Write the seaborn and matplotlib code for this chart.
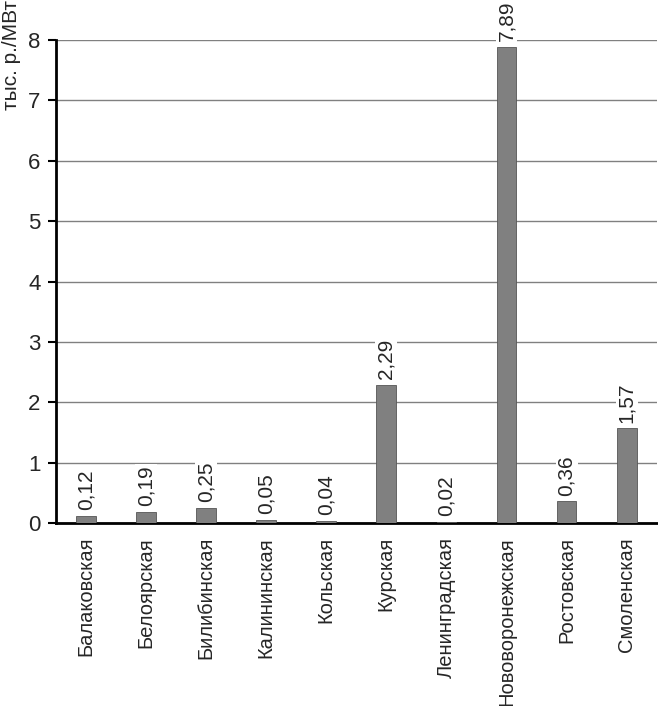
import matplotlib
matplotlib.use("Agg")
import matplotlib.pyplot as plt
import seaborn as sns
import pandas as pd

stations = ["Балаковская", "Белоярская", "Билибинская", "Калининская", "Кольская",
            "Курская", "Ленинградская", "Нововоронежская", "Ростовская", "Смоленская"]
values = [0.12, 0.19, 0.25, 0.05, 0.04, 2.29, 0.02, 7.89, 0.36, 1.57]
value_labels = ["0,12", "0,19", "0,25", "0,05", "0,04", "2,29", "0,02", "7,89", "0,36", "1,57"]
yticks = [0, 1, 2, 3, 4, 5, 6, 7, 8]

sns.set_theme(style="white")
plt.rcParams['font.family'] = ['Liberation Sans', 'DejaVu Sans']

df = pd.DataFrame({"station": stations, "value": values})

fig = plt.figure(figsize=(6.58, 7.06), dpi=100)
ax = fig.add_axes([0.085, 0.2592, 0.913, 0.6841])

sns.barplot(data=df, x="station", y="value", color="#808080", width=0.33,
            edgecolor="#555555", linewidth=0.6, saturation=1, ax=ax, zorder=3)

ax.set_ylim(0, 8)
ax.set_yticks(yticks)
ax.set_yticklabels([str(t) for t in yticks], fontsize=16)
ax.set_xlim(-0.5, len(stations) - 0.5)
ax.yaxis.grid(True, color="#808080", linewidth=1.0, zorder=0)
ax.set_axisbelow(True)
for s in ["top", "right"]:
    ax.spines[s].set_visible(False)
ax.spines["left"].set_color("black")
ax.spines["left"].set_linewidth(2)
ax.spines["bottom"].set_color("black")
ax.spines["bottom"].set_linewidth(2)
ax.tick_params(axis="y", which="both", left=True, length=6, width=1.5, color="black", pad=5)
ax.tick_params(axis="x", bottom=False, pad=4)
ax.set_xticks(range(len(stations)))
ax.set_xticklabels(stations, rotation=90, fontsize=14.5, va="top", ha="center")
ax.set_xlabel("")
ax.set_ylabel("")

for i, (v, lab) in enumerate(zip(values, value_labels)):
    ax.annotate(lab, (i, v), xytext=(0, 4), textcoords="offset points",
                rotation=90, ha="center", va="bottom", fontsize=15,
                bbox=dict(facecolor="white", edgecolor="none", pad=1), zorder=4,
                annotation_clip=False)

fig.text(0.003, 1.0, "тыс. р./МВт", rotation=90, ha="left", va="top", fontsize=15)

fig.savefig("out.png", dpi=100, facecolor="white")
